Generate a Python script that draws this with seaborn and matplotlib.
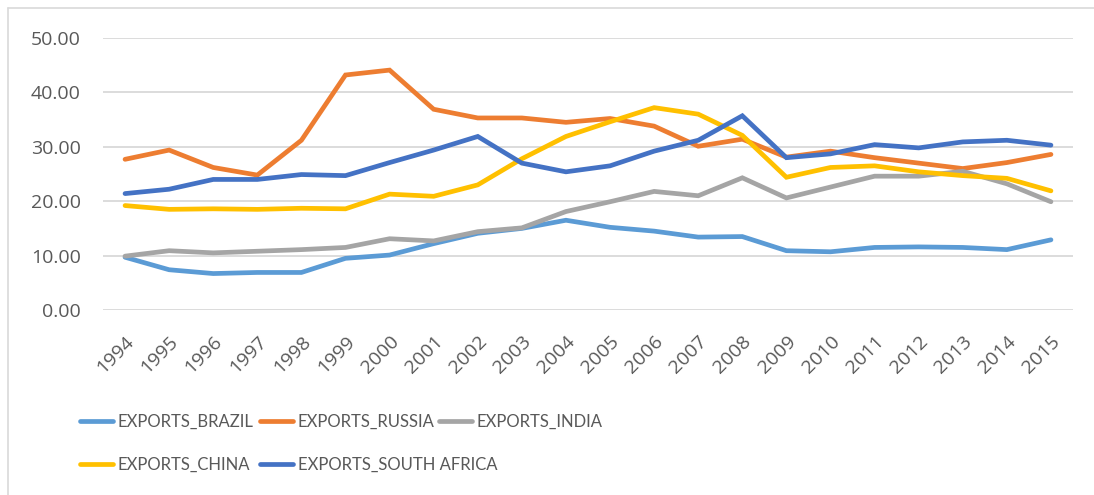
import pandas as pd
import numpy as np
import matplotlib.pyplot as plt
import seaborn as sns
from matplotlib.lines import Line2D

years = list(range(1994, 2016))

brazil = [9.7, 7.4, 6.7, 6.9, 6.9, 9.5, 10.1, 12.2, 14.1, 15.0, 16.5, 15.2, 14.5, 13.4, 13.5, 10.9, 10.7, 11.5, 11.6, 11.5, 11.1, 12.9]
russia = [27.7, 29.4, 26.2, 24.8, 31.2, 43.2, 44.1, 36.9, 35.3, 35.3, 34.5, 35.2, 33.8, 30.1, 31.4, 28.1, 29.2, 28.0, 27.0, 26.0, 27.1, 28.6]
india = [9.9, 10.9, 10.5, 10.8, 11.1, 11.5, 13.1, 12.7, 14.4, 15.1, 18.1, 19.9, 21.8, 21.0, 24.3, 20.6, 22.6, 24.6, 24.6, 25.5, 23.2, 19.9]
china = [19.2, 18.5, 18.6, 18.5, 18.7, 18.6, 21.3, 20.9, 23.0, 27.8, 31.9, 34.6, 37.2, 36.0, 32.1, 24.4, 26.2, 26.5, 25.4, 24.7, 24.2, 21.9]
south_africa = [21.4, 22.2, 24.0, 24.0, 24.9, 24.7, 27.1, 29.4, 31.9, 27.0, 25.4, 26.5, 29.2, 31.2, 35.7, 28.0, 28.7, 30.4, 29.8, 30.9, 31.2, 30.3]

names = ["EXPORTS_BRAZIL", "EXPORTS_RUSSIA", "EXPORTS_INDIA", "EXPORTS_CHINA", "EXPORTS_SOUTH AFRICA"]
colors = ["#5B9BD5", "#ED7D31", "#A5A5A5", "#FFC000", "#4472C4"]

df = pd.DataFrame({"year": years, names[0]: brazil, names[1]: russia,
                   names[2]: india, names[3]: china, names[4]: south_africa})
long_df = df.melt(id_vars="year", var_name="series", value_name="value")

sns.set_style("white")
plt.rcParams['font.family'] = ['Open Sans', 'DejaVu Sans']

fig = plt.figure(figsize=(10.94, 4.95), dpi=100)
ax = fig.add_axes([103/1094, 1-310/495, (1073-103)/1094, (310-38)/495])

sns.lineplot(data=long_df, x="year", y="value", hue="series", hue_order=names,
             palette=colors, linewidth=3.4, ax=ax, legend=False)
for ln in ax.lines:
    ln.set_solid_capstyle("round")
    ln.set_solid_joinstyle("miter")

ax.set_xlim(1993.5, 2015.5)
ax.set_ylim(0, 50)
ax.set_yticks(np.arange(0, 51, 10))
ax.set_yticklabels(["{:.2f}".format(v) for v in np.arange(0, 51, 10)])
ax.set_xticks(years)
ax.set_xticklabels([str(y) for y in years], rotation=45, ha="right", rotation_mode="anchor")
ax.tick_params(axis="both", length=0, labelsize=14, colors="#595959")
ax.tick_params(axis="y", pad=16)
ax.tick_params(axis="x", pad=16)
ax.grid(axis="y", color="#D9D9D9", linewidth=1.3)
ax.set_axisbelow(True)
for s in ax.spines.values():
    s.set_visible(False)
ax.set_xlabel("")
ax.set_ylabel("")

# chart border (only top and left visible in the crop)
fig.add_artist(Line2D([8/1094, 8/1094], [0, 1-8/495], color="#D9D9D9", linewidth=1.2, transform=fig.transFigure))
fig.add_artist(Line2D([8/1094, 1], [1-8/495, 1-8/495], color="#D9D9D9", linewidth=1.2, transform=fig.transFigure))

# legend: three columns of equal pitch
cols = [[0, 3], [1, 4], [2]]
col_x = [80, 260, 439]
for idx, xs in zip(cols, col_x):
    handles = [Line2D([], [], color=colors[i], linewidth=3.4, solid_capstyle="round") for i in idx]
    leg = fig.legend(handles, [names[i] for i in idx], loc="upper left",
                     bbox_to_anchor=(xs/1094, 1-414/495), frameon=False,
                     prop={"family": ["Lato", "DejaVu Sans"], "size": 12},
                     labelcolor="#595959", handlelength=2.0, handletextpad=0.25,
                     labelspacing=1.6, borderpad=0, borderaxespad=0)

fig.savefig("out.png", dpi=100)
